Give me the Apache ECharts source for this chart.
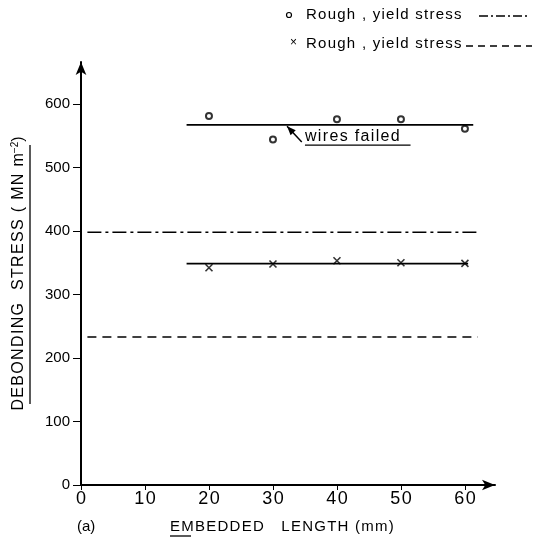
<!DOCTYPE html>
<html>
<head>
<meta charset="utf-8">
<script src="https://cdn.jsdelivr.net/npm/echarts@6/dist/echarts.min.js"></script>
<style>
html,body{margin:0;padding:0;background:#fff;}
#c{width:537px;height:542px;}
</style>
</head>
<body>
<div id="c"></div>
<script>
// ---- data ----
const xTickValues = [0, 10, 20, 30, 40, 50, 60];
const yTickValues = [0, 100, 200, 300, 400, 500, 600];
const embeddedLengths = [20, 30, 40, 50, 60];
const circleStress = [581, 544, 576, 576, 561];
const crossStress = [342, 348, 353, 350, 349];
const circleFitX = [16.5, 61.3];
const circleFitY = [567, 567];
const crossFitX = [16.5, 60.5];
const crossFitY = [348.5, 348.5];
const dashDotX = [1, 62];
const dashDotY = [398, 398];
const dashedX = [1, 62];
const dashedY = [233, 233];
const legendTexts = ['Rough , yield stress', 'Rough , yield stress'];
const annotationText = 'wires failed';
const xName = 'EMBEDDED   LENGTH (mm)';
const yName = 'DEBONDING  STRESS ( MN m';
const panelLabel = '(a)';

const pairs = (xs, ys) => xs.map((x, i) => [x, ys[i]]);
const FONT = '"Liberation Sans", Arial, sans-serif';
const sp = s => s.split('').join('\u200A');

const chart = echarts.init(document.getElementById('c'), null, {renderer: 'canvas'});

const option = {
  animation: false,
  backgroundColor: '#fff',
  grid: {left: 81, right: 42, top: 62, bottom: 57, containLabel: false},
  xAxis: {
    type: 'value', min: 0, max: 64.7, interval: 10,
    splitLine: {show: false},
    axisLine: {show: true, onZero: false, symbol: ['none', 'arrow'], symbolSize: [8, 13], lineStyle: {color: '#000', width: 2}},
    axisTick: {show: true, length: 5, lineStyle: {color: '#000', width: 1}, customValues: xTickValues},
    axisLabel: {color: '#000', fontFamily: FONT, fontSize: 18, margin: 5, customValues: xTickValues,
      formatter: v => sp(String(v))},
  },
  yAxis: {
    type: 'value', min: 0, max: 666, interval: 100,
    splitLine: {show: false},
    name: '{a|' + sp(yName) + '}{s|\u22122}{a|)}',
    nameLocation: 'middle', nameRotate: 90, nameGap: 53,
    nameTextStyle: {
      rich: {
        a: {fontFamily: FONT, fontSize: 16, color: '#000'},
        s: {fontFamily: FONT, fontSize: 10, color: '#000', verticalAlign: 'bottom', padding: [0, 0, 8, 0]}
      }
    },
    axisLine: {show: true, onZero: false, symbol: ['none', 'arrow'], symbolSize: [8, 13], lineStyle: {color: '#000', width: 2}},
    axisTick: {show: true, length: 8, lineStyle: {color: '#000', width: 1}, customValues: yTickValues},
    axisLabel: {color: '#000', fontFamily: FONT, fontSize: 15, margin: 11, customValues: yTickValues},
  },
  series: [
    {type: 'line', data: pairs(dashDotX, dashDotY), symbol: 'none', lineStyle: {color: '#000', width: 1.6, type: [14, 4, 3, 4]}},
    {type: 'line', data: pairs(dashedX, dashedY), symbol: 'none', lineStyle: {color: '#000', width: 1.4, type: [9, 6]}},
    {type: 'line', data: pairs(circleFitX, circleFitY), symbol: 'none', lineStyle: {color: '#000', width: 1.6}},
    {type: 'line', data: pairs(crossFitX, crossFitY), symbol: 'none', lineStyle: {color: '#000', width: 1.6}},
    {type: 'scatter', data: pairs(embeddedLengths, circleStress), symbol: 'emptyCircle', symbolSize: 6,
      itemStyle: {color: '#000', borderColor: '#000', borderWidth: 1.3}},
    {type: 'scatter', data: pairs(embeddedLengths, crossStress), symbol: 'path://M0,0L10,10M10,0L0,10', symbolSize: 7,
      itemStyle: {color: 'none', borderColor: '#000', borderWidth: 1.6}},
  ]
};
chart.setOption(option);

const p = (x, y) => chart.convertToPixel({gridIndex: 0}, [x, y]);
const arrowTail = p(34.5, 540), arrowHead = p(32.2, 565);
const txt = p(35, 548);
const ulA = p(35, 535), ulB = p(51.5, 535);

chart.setOption({
  graphic: [
    // legend
    {type: 'circle', shape: {cx: 289, cy: 15, r: 2.5}, style: {fill: 'none', stroke: '#000', lineWidth: 1.2}},
    {type: 'text', left: 306, top: 7, style: {text: sp(legendTexts[0]), font: '15px ' + FONT, fill: '#000'}},
    {type: 'line', shape: {x1: 479, y1: 16, x2: 530, y2: 16}, style: {stroke: '#000', lineWidth: 1.5, lineDash: [9, 3, 2, 3]}},
    {type: 'text', left: 290, top: 37, style: {text: '\u00d7', font: '12px ' + FONT, fill: '#000'}},
    {type: 'text', left: 306, top: 36, style: {text: sp(legendTexts[1]), font: '15px ' + FONT, fill: '#000'}},
    {type: 'line', shape: {x1: 466, y1: 46, x2: 532, y2: 46}, style: {stroke: '#000', lineWidth: 1.3, lineDash: [7, 5]}},
    // annotation
    {type: 'line', shape: {x1: arrowTail[0], y1: arrowTail[1], x2: arrowHead[0], y2: arrowHead[1]}, style: {stroke: '#000', lineWidth: 1.5}},
    {type: 'polygon', shape: {points: (() => {
      const dx = arrowHead[0] - arrowTail[0], dy = arrowHead[1] - arrowTail[1];
      const L = Math.hypot(dx, dy), ux = dx / L, uy = dy / L;
      const bx = arrowHead[0] - ux * 9, by = arrowHead[1] - uy * 9;
      return [[arrowHead[0], arrowHead[1]], [bx - uy * 3.5, by + ux * 3.5], [bx + uy * 3.5, by - ux * 3.5]];
    })()}, style: {fill: '#000'}},
    {type: 'text', x: txt[0], y: txt[1], style: {text: sp(annotationText), font: '16px ' + FONT, fill: '#000', verticalAlign: 'middle'}},
    {type: 'line', shape: {x1: ulA[0], y1: ulA[1], x2: ulB[0], y2: ulB[1]}, style: {stroke: '#000', lineWidth: 1.2}},
    // y name underline
    {type: 'line', shape: {x1: 30, y1: 145, x2: 30, y2: 404}, style: {stroke: '#000', lineWidth: 1.3}},
    // x name
    {type: 'text', left: 170, top: 519, style: {text: sp(xName), font: '15px ' + FONT, fill: '#000'}},
    {type: 'line', shape: {x1: 170, y1: 536, x2: 191, y2: 536}, style: {stroke: '#000', lineWidth: 1.3}},
    {type: 'text', left: 77, top: 519, style: {text: panelLabel, font: '15px ' + FONT, fill: '#000'}},
  ]
});
</script>
</body>
</html>
